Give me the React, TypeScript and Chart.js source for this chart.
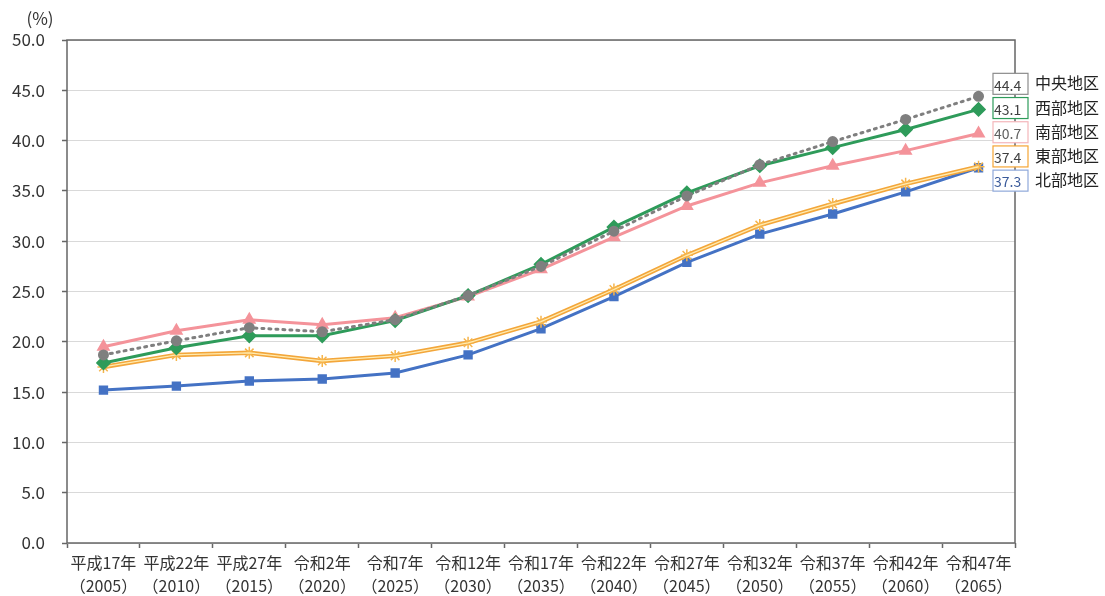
import React, { useEffect, useRef } from "react";
import { Chart, registerables } from "chart.js";
Chart.register(...registerables);

const eraLabels = ["平成17年", "平成22年", "平成27年", "令和2年", "令和7年", "令和12年", "令和17年", "令和22年", "令和27年", "令和32年", "令和37年", "令和42年", "令和47年"];
const yearLabels = ["（2005）", "（2010）", "（2015）", "（2020）", "（2025）", "（2030）", "（2035）", "（2040）", "（2045）", "（2050）", "（2055）", "（2060）", "（2065）"];

const chuo = [18.7, 20.1, 21.4, 21.0, 22.2, 24.6, 27.5, 31.0, 34.5, 37.6, 39.9, 42.1, 44.4];
const seibu = [17.9, 19.4, 20.6, 20.6, 22.1, 24.6, 27.7, 31.4, 34.8, 37.5, 39.3, 41.1, 43.1];
const nanbu = [19.5, 21.1, 22.2, 21.7, 22.4, 24.5, 27.2, 30.4, 33.5, 35.8, 37.5, 39.0, 40.7];
const tobu = [17.5, 18.7, 18.9, 18.1, 18.6, 19.9, 22.0, 25.2, 28.6, 31.6, 33.7, 35.7, 37.4];
const hokubu = [15.2, 15.6, 16.1, 16.3, 16.9, 18.7, 21.3, 24.5, 27.9, 30.7, 32.7, 34.9, 37.3];

const seriesNames = ["中央地区", "西部地区", "南部地区", "東部地区", "北部地区"];

const FONT = "'Noto Sans CJK JP', 'Noto Sans', sans-serif";

const endLabelPlugin = {
  id: "endLabels",
  afterDraw(chart: any) {
    const ctx = chart.ctx;
    const ys = chart.scales.y;
    const items = [
      { v: chuo[chuo.length - 1], name: seriesNames[0], border: "#8c8c8c", text: "#404040" },
      { v: seibu[seibu.length - 1], name: seriesNames[1], border: "#2E9B5A", text: "#404040" },
      { v: nanbu[nanbu.length - 1], name: seriesNames[2], border: "#F4B6BA", text: "#606060" },
      { v: tobu[tobu.length - 1], name: seriesNames[3], border: "#F5A534", text: "#404040" },
      { v: hokubu[hokubu.length - 1], name: seriesNames[4], border: "#8FA8DA", text: "#3a5a9a" },
    ];
    const x0 = chart.chartArea.right - 22;
    let y = ys.getPixelForValue(items[0].v) - 13;
    ctx.save();
    items.forEach((it) => {
      ctx.fillStyle = "#ffffff";
      ctx.fillRect(x0, y - 10, 35, 21);
      ctx.strokeStyle = it.border;
      ctx.lineWidth = 1.2;
      ctx.strokeRect(x0, y - 10, 35, 21);
      ctx.fillStyle = it.text;
      ctx.font = `14px ${FONT}`;
      ctx.textAlign = "left";
      ctx.textBaseline = "middle";
      ctx.fillText(it.v.toFixed(1), x0 + 1, y + 2);
      ctx.fillStyle = "#222222";
      ctx.font = `16px ${FONT}`;
      ctx.fillText(it.name, x0 + 42, y);
      y += 24.2;
    });
    ctx.fillStyle = "#333333";
    ctx.font = `17px ${FONT}`;
    ctx.textAlign = "center";
    ctx.fillText("(%)", 40, 19);
    ctx.restore();
  },
};

const borderPlugin = {
  id: "plotBorder",
  beforeDatasetsDraw(chart: any) {
    const { left, right, top, bottom } = chart.chartArea;
    const ctx = chart.ctx;
    ctx.save();
    ctx.strokeStyle = "#666666";
    ctx.lineWidth = 1.5;
    ctx.strokeRect(left, top, right - left, bottom - top);
    ctx.restore();
  },
};

export default function App() {
  const ref = useRef<HTMLCanvasElement>(null);
  useEffect(() => {
    if (!ref.current) return;
    const labels = eraLabels.map((e, i) => [e, yearLabels[i]]);
    const chart = new Chart(ref.current, {
      type: "line",
      data: {
        labels,
        datasets: [
          {
            label: seriesNames[0],
            data: chuo,
            borderColor: "#7F7F7F",
            backgroundColor: "#7F7F7F",
            borderWidth: 3,
            borderDash: [2, 5],
            borderCapStyle: "round",
            pointStyle: "circle",
            pointRadius: 4,
            order: 0,
          },
          {
            label: seriesNames[1],
            data: seibu,
            borderColor: "#2E9B5A",
            backgroundColor: "#2E9B5A",
            borderWidth: 3,
            pointStyle: "rectRot",
            pointRadius: 5.5,
            order: 1,
          },
          {
            label: seriesNames[2],
            data: nanbu,
            borderColor: "#F4939A",
            backgroundColor: "#F4939A",
            borderWidth: 3,
            pointStyle: "triangle",
            pointRadius: 5,
            order: 2,
          },
          {
            label: seriesNames[3] + "_inner",
            data: tobu,
            borderColor: "#FFEBB0",
            borderWidth: 1.3,
            pointRadius: 0,
            order: 3,
          },
          {
            label: seriesNames[3],
            data: tobu,
            borderColor: "#F3A63A",
            backgroundColor: "#F3A63A",
            borderWidth: 4.5,
            pointStyle: "star",
            pointRadius: 6,
            pointBorderColor: "#F6B54C",
            pointBorderWidth: 1.5,
            order: 4,
          },
          {
            label: seriesNames[4],
            data: hokubu,
            borderColor: "#4472C4",
            backgroundColor: "#4472C4",
            borderWidth: 3,
            pointStyle: "rect",
            pointRadius: 4.5,
            order: 5,
          },
        ] as any,
      },
      options: {
        animation: false,
        responsive: true,
        maintainAspectRatio: false,
        layout: { padding: { left: 0, top: 40, right: 90, bottom: 0 } },
        plugins: { legend: { display: false }, tooltip: { enabled: false } },
        elements: { line: { tension: 0 } },
        scales: {
          x: {
            type: "category",
            offset: true,
            border: { display: false },
            grid: {
              offset: true,
              drawOnChartArea: false,
              drawTicks: true,
              tickLength: 5,
              tickColor: "#666666",
              tickWidth: 1.5,
            },
            ticks: {
              autoSkip: false,
              maxRotation: 0,
              minRotation: 0,
              padding: 3,
              color: "#333333",
              font: { family: FONT, size: 16, lineHeight: 1.45 },
            },
            afterFit: (s: any) => {
              s.height = 53;
            },
          },
          y: {
            min: 0,
            max: 50,
            border: { display: false },
            grid: {
              color: "#d9d9d9",
              lineWidth: 1,
              tickLength: 5,
              tickColor: "#666666",
              tickWidth: 1.5,
            },
            ticks: {
              stepSize: 5,
              padding: 17,
              color: "#333333",
              font: { family: FONT, size: 17 },
              callback: (v: any) => Number(v).toFixed(1),
            },
            afterFit: (s: any) => {
              s.width = 67;
            },
          },
        },
      },
      plugins: [borderPlugin, endLabelPlugin],
    });
    return () => chart.destroy();
  }, []);
  return (
    <div style={{ position: "absolute", left: 0, top: 0, width: 1105, height: 596, background: "#fff" }}>
      <canvas ref={ref} />
    </div>
  );
}
